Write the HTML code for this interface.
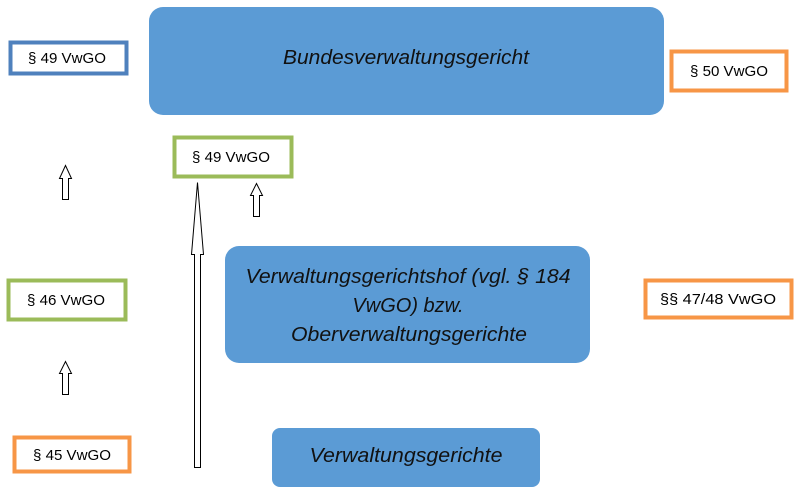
<!DOCTYPE html>
<html><head><meta charset="utf-8"><style>
html,body{margin:0;padding:0;background:#fff;}
svg{display:block;}
.l{font-family:"Liberation Sans",sans-serif;font-size:15px;fill:#000;}
.b{font-family:"Liberation Sans",sans-serif;font-size:20px;font-style:italic;fill:#111;}
</style></head><body>
<svg width="802" height="499" viewBox="0 0 802 499" xmlns="http://www.w3.org/2000/svg">
<!-- blue boxes -->
<rect x="149" y="7" width="515" height="108" rx="14" fill="#5b9bd5"/>
<text class="b" x="406" y="64" text-anchor="middle" textLength="246" lengthAdjust="spacingAndGlyphs">Bundesverwaltungsgericht</text>
<rect x="225" y="246" width="365" height="117" rx="14" fill="#5b9bd5"/>
<text class="b" x="408" y="283" text-anchor="middle" textLength="325" lengthAdjust="spacingAndGlyphs">Verwaltungsgerichtshof (vgl. § 184</text>
<text class="b" x="408" y="312" text-anchor="middle">VwGO) bzw.</text>
<text class="b" x="409" y="341" text-anchor="middle" textLength="236" lengthAdjust="spacingAndGlyphs">Oberverwaltungsgerichte</text>
<rect x="272" y="428" width="268" height="59" rx="8" fill="#5b9bd5"/>
<text class="b" x="406" y="462" text-anchor="middle" textLength="193" lengthAdjust="spacingAndGlyphs">Verwaltungsgerichte</text>
<!-- label boxes -->
<rect x="10.5" y="42.5" width="116" height="31" fill="#fff" stroke="#4f81bd" stroke-width="4"/>
<text class="l" x="67" y="63" text-anchor="middle" textLength="78" lengthAdjust="spacingAndGlyphs">§ 49 VwGO</text>
<rect x="671.5" y="51.5" width="115" height="39" fill="#fff" stroke="#f79646" stroke-width="4"/>
<text class="l" x="729" y="76" text-anchor="middle" textLength="78" lengthAdjust="spacingAndGlyphs">§ 50 VwGO</text>
<rect x="174.5" y="137.5" width="117" height="39" fill="#fff" stroke="#9bbb59" stroke-width="4"/>
<text class="l" x="231" y="162" text-anchor="middle" textLength="78" lengthAdjust="spacingAndGlyphs">§ 49 VwGO</text>
<rect x="8.5" y="280.5" width="117" height="39" fill="#fff" stroke="#9bbb59" stroke-width="4"/>
<text class="l" x="66" y="305" text-anchor="middle" textLength="78" lengthAdjust="spacingAndGlyphs">§ 46 VwGO</text>
<rect x="645.5" y="280.5" width="146" height="37" fill="#fff" stroke="#f79646" stroke-width="4"/>
<text class="l" x="718" y="304" text-anchor="middle" textLength="116" lengthAdjust="spacingAndGlyphs">§§ 47/48 VwGO</text>
<rect x="14.5" y="437.5" width="115" height="34" fill="#fff" stroke="#f79646" stroke-width="4"/>
<text class="l" x="72" y="460" text-anchor="middle" textLength="78" lengthAdjust="spacingAndGlyphs">§ 45 VwGO</text>
<!-- arrows -->
<g fill="#fff" stroke="#000" stroke-width="1">
<path d="M62.5 199.5 V178.5 H59.5 L65.5 165.5 L71.5 178.5 H68.5 V199.5 Z"/>
<path d="M62.5 394.5 V373.5 H59.5 L65.5 361.5 L71.5 373.5 H68.5 V394.5 Z"/>
<path d="M253.5 216.5 V195.5 H250.5 L256.5 183.5 L262.5 195.5 H259.5 V216.5 Z"/>
<path d="M194.5 467.5 V254.5 H191.5 L197.5 182.5 L203.5 254.5 H200.5 V467.5 Z"/>
</g>
</svg>
</body></html>
